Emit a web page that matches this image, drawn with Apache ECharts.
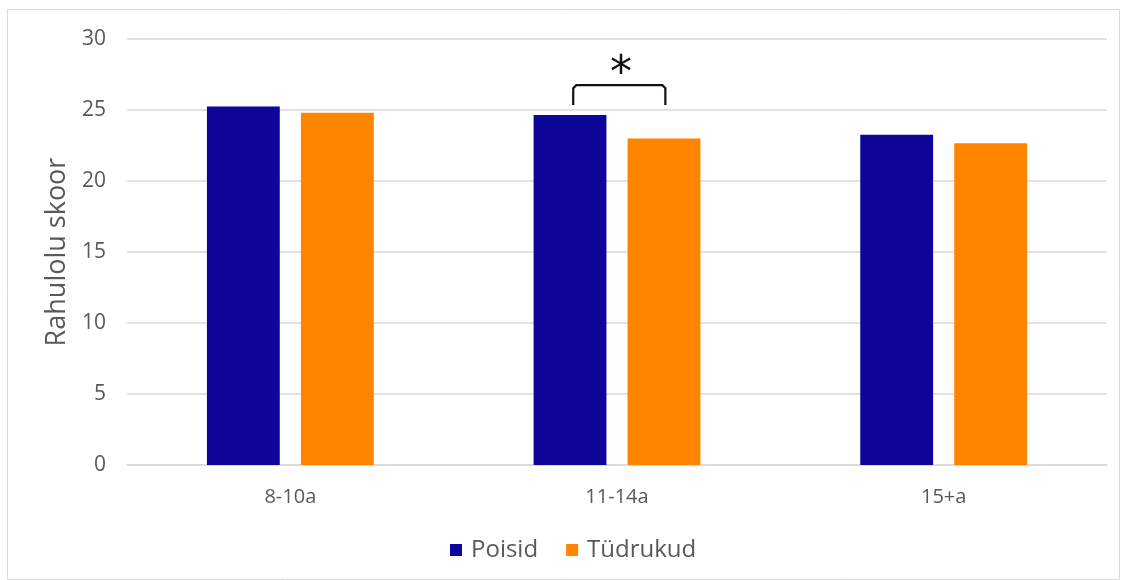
<!DOCTYPE html>
<html><head><meta charset="utf-8">
<script src="https://cdn.jsdelivr.net/npm/echarts@6/dist/echarts.min.js"></script>
<style>html,body{margin:0;padding:0;background:#fff}#c{width:1123px;height:580px}</style>
</head><body><div id="c"></div>
<script>
const categories = ['8-10a', '11-14a', '15+a'];
const poisid = [25.25, 24.65, 23.25];
const tudrukud = [24.8, 23.0, 22.65];
const yTicks = [0, 5, 10, 15, 20, 25, 30];
const sigGroup = 1; // index of category with significant difference
const bracketLow = 25.35, bracketHigh = 26.75, starValue = 27.4;

const chart = echarts.init(document.getElementById('c'));
const font = 'Open Sans, Lato, sans-serif';
chart.setOption({
  animation: false,
  grid: { left: 127, right: 16, top: 39, bottom: 115, containLabel: false },
  graphic: [{ type: 'rect', shape: { x: 7.5, y: 9.5, width: 1112, height: 570 }, style: { fill: 'none', stroke: '#d9d9d9', lineWidth: 1 }, silent: true }],
  legend: {
    bottom: 13, left: 445, itemWidth: 12, itemHeight: 12, itemGap: 28,
    icon: 'rect', textStyle: { color: '#595959', fontSize: 24, fontFamily: font, padding: [0, 0, 0, 4] },
    data: ['Poisid', 'Tüdrukud']
  },
  xAxis: {
    type: 'category', data: categories,
    axisLine: { lineStyle: { color: '#d9d9d9', width: 1.5 } }, axisTick: { show: false },
    axisLabel: { color: '#595959', fontSize: 20, fontFamily: font, margin: 22 }
  },
  yAxis: {
    type: 'value', min: yTicks[0], max: yTicks[yTicks.length - 1], interval: 5,
    name: 'Rahulolu skoor', nameLocation: 'middle', nameGap: 53,
    nameTextStyle: { color: '#595959', fontSize: 27, fontFamily: font },
    axisLine: { show: false }, axisTick: { show: false },
    axisLabel: { color: '#595959', fontSize: 21, fontFamily: font, margin: 21 },
    splitLine: { lineStyle: { color: '#d9d9d9', width: 1.5 } }
  },
  series: [
    { name: 'Poisid', type: 'bar', data: poisid, barWidth: '22.3%', barGap: '29%', itemStyle: { color: '#0e0599' } },
    { name: 'Tüdrukud', type: 'bar', data: tudrukud, barWidth: '22.3%', itemStyle: { color: '#ff8400' } },
    {
      type: 'custom', silent: true, z: 5,
      data: [[sigGroup, bracketLow, bracketHigh, starValue]],
      renderItem: function (params, api) {
        const c = api.value(0);
        const band = api.size([1, 0])[0];
        const pLow = api.coord([c, api.value(1)]);
        const pHigh = api.coord([c, api.value(2)]);
        const pStar = api.coord([c, api.value(3)]);
        const x1 = pLow[0] - band * 0.134, x2 = pLow[0] + band * 0.148;
        return {
          type: 'group', children: [
            { type: 'polyline', shape: { points: [[x1, pLow[1]], [x1, pHigh[1] + 3], [x1 + 3, pHigh[1]], [x2 - 3, pHigh[1]], [x2, pHigh[1] + 3], [x2, pLow[1]]] },
              style: { stroke: '#111', lineWidth: 2.2, fill: 'none' } },
            { type: 'text', x: pStar[0] + 4, y: pStar[1], style: { text: '*', fontSize: 44, fontFamily: 'DejaVu Sans', fill: '#111', align: 'center', verticalAlign: 'middle' } }
          ]
        };
      }
    }
  ]
});
</script></body></html>
